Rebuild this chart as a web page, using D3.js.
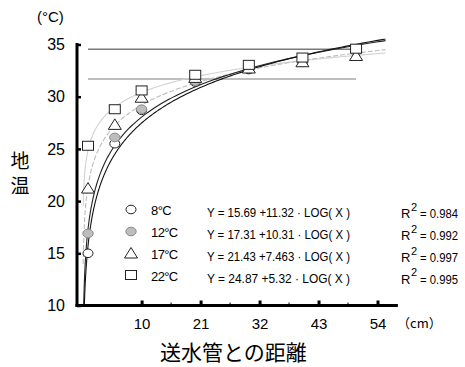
<!DOCTYPE html>
<html><head><meta charset="utf-8">
<script src="https://cdn.jsdelivr.net/npm/d3@7"></script>
<style>
html,body{margin:0;padding:0;background:#fff;}
svg{display:block;}
text{font-family:"Liberation Sans",Arial,sans-serif;fill:#000;}
.cjk{font-family:"Noto Sans CJK JP",sans-serif;}
</style></head>
<body>
<svg id="chart" width="465" height="367"></svg>
<script>
// ---- data ----
const distances = [0, 5, 10, 20, 30, 40, 50];
const seriesLabels = ["8°C", "12°C", "17°C", "22°C"];
const temp8  = [15.0, 25.5, 28.7, 31.4, 32.6, 33.3, 34.4];
const temp12 = [16.9, 26.1, 28.8, 31.5, 32.8, 33.3, 34.3];
const temp17 = [21.2, 27.3, 29.9, 31.8, 32.7, 33.3, 33.9];
const temp22 = [25.3, 28.8, 30.6, 32.1, 33.05, 33.75, 34.6];
const intercepts = [15.69, 17.31, 21.43, 24.87];
const slopes = [11.32, 10.31, 7.463, 5.32];
const slopeText = ["11.32", "10.31", "7.463", "5.32"];
const r2 = ["0.984", "0.992", "0.997", "0.995"];
const refLevels = [34.55, 31.7];
const yTicks = [10, 15, 20, 25, 30, 35];
const xTicks = [10, 21, 32, 43, 54];
const xMinorTicks = [15.5, 26.5, 37.5, 48.5];
const xAxisExtent = [-2.05, 57.8];
const curveRange = [-0.9, 55.5];

const svg = d3.select("#chart");
const x = d3.scaleLinear().domain([0, 54]).range([88, 377.5]);
const y = d3.scaleLinear().domain([10, 35]).range([305.5, 44.5]);
const axisX = x(xAxisExtent[0]);

// clip
svg.append("defs").append("clipPath").attr("id", "plot")
  .append("rect").attr("x", axisX + 1).attr("y", y(35.6))
  .attr("width", x(xAxisExtent[1]) - axisX).attr("height", y(10) - y(35.6) - 1.5);

// reference horizontal lines
const refColors = ["#7a7a7a", "#a8a8a8"];
refLevels.forEach((v, i) => {
  svg.append("line").attr("x1", x(0)).attr("x2", x(50))
    .attr("y1", y(v)).attr("y2", y(v))
    .attr("stroke", refColors[i]).attr("stroke-width", 1.6);
});

// fitted curves Y = a + b*log10(d+1)
const curveStyles = [
  {stroke: "#111", w: 1.1, dash: null},
  {stroke: "#222", w: 1.1, dash: null},
  {stroke: "#bdbdbd", w: 1.1, dash: "5,2"},
  {stroke: "#d2d2d2", w: 1.1, dash: null}
];
const samples = [];
for (let i = 0; i <= 400; i++) {
  const t = i / 400;
  const X = Math.pow(10, Math.log10(curveRange[0] + 1) + t * (Math.log10(curveRange[1] + 1) - Math.log10(curveRange[0] + 1)));
  samples.push(X - 1);
}
const gCurves = svg.append("g").attr("clip-path", "url(#plot)");
[3, 2, 1, 0].forEach(i => {
  const line = d3.line()
    .x(d => x(d))
    .y(d => y(intercepts[i] + slopes[i] * Math.log10(d + 1)));
  gCurves.append("path").attr("d", line(samples))
    .attr("fill", "none").attr("stroke", curveStyles[i].stroke)
    .attr("stroke-width", curveStyles[i].w)
    .attr("stroke-dasharray", curveStyles[i].dash);
});

// markers
function marker(g, type, cx, cy) {
  if (type === 0) g.append("ellipse").attr("cx", cx).attr("cy", cy).attr("rx", 5).attr("ry", 4.3)
      .attr("fill", "#fff").attr("stroke", "#222").attr("stroke-width", 1);
  else if (type === 1) g.append("ellipse").attr("cx", cx).attr("cy", cy).attr("rx", 5.2).attr("ry", 4.3)
      .attr("fill", "#bdbdbd").attr("stroke", "#8a8a8a").attr("stroke-width", 1);
  else if (type === 2) g.append("path")
      .attr("d", `M${cx},${cy - 6}L${cx + 6.5},${cy + 4.5}L${cx - 6.5},${cy + 4.5}Z`)
      .attr("fill", "#fff").attr("stroke", "#222").attr("stroke-width", 1);
  else g.append("rect").attr("x", cx - 5.5).attr("y", cy - 4.5).attr("width", 11).attr("height", 9)
      .attr("fill", "#fff").attr("stroke", "#222").attr("stroke-width", 1);
}
const allSeries = [temp8, temp12, temp17, temp22];
const gPts = svg.append("g");
allSeries.forEach((vals, i) => {
  vals.forEach((v, j) => marker(gPts, i, x(distances[j]), y(v)));
});

// axes
const yAxis = d3.axisLeft(y).tickValues(yTicks).tickSize(-4).tickSizeOuter(0).tickPadding(12);
const gy = svg.append("g").attr("transform", `translate(${axisX},0)`).call(yAxis);
gy.select(".domain").remove();
gy.selectAll(".tick line").attr("stroke", "#000").attr("stroke-width", 2.5);
gy.selectAll(".tick text").attr("font-size", 16).attr("font-family", "Liberation Sans, Arial, sans-serif");
svg.append("line").attr("x1", axisX).attr("x2", axisX).attr("y1", y(35) - 1.5).attr("y2", y(10) + 1.5)
  .attr("stroke", "#000").attr("stroke-width", 3);

const xAxis = d3.axisBottom(x).tickValues(xTicks).tickSize(-5).tickSizeOuter(0).tickPadding(12.5);
const gx = svg.append("g").attr("transform", `translate(0,${y(10)})`).call(xAxis);
gx.select(".domain").remove();
gx.selectAll(".tick line").attr("stroke", "#000").attr("stroke-width", 3);
gx.selectAll(".tick text").attr("font-size", 15).attr("font-family", "Liberation Sans, Arial, sans-serif");
xMinorTicks.forEach(t => {
  svg.append("line").attr("x1", x(t)).attr("x2", x(t)).attr("y1", y(10)).attr("y2", y(10) - 3)
    .attr("stroke", "#000").attr("stroke-width", 1);
});
svg.append("line").attr("x1", axisX - 1.5).attr("x2", x(xAxisExtent[1])).attr("y1", y(10)).attr("y2", y(10))
  .attr("stroke", "#000").attr("stroke-width", 3);

// axis titles/units
svg.append("text").attr("x", 37).attr("y", 22).attr("font-size", 15).text("(°C)");
svg.append("text").attr("class", "cjk").attr("x", 397).attr("y", 328).attr("font-size", 13).text("（cm）");
svg.append("text").attr("class", "cjk").attr("x", 160).attr("y", 360).attr("font-size", 21).text("送水管との距離");
svg.append("text").attr("class", "cjk").attr("font-size", 19).attr("text-anchor", "middle")
  .attr("x", 20).attr("y", 168).text("地");
svg.append("text").attr("class", "cjk").attr("font-size", 19).attr("text-anchor", "middle")
  .attr("x", 20).attr("y", 193).text("温");

// legend
const rowY = [209.5, 231.5, 253.5, 275];
seriesLabels.forEach((lab, i) => {
  marker(svg, i, 131, rowY[i]);
  svg.append("text").attr("x", 151).attr("y", rowY[i] + 5.5).attr("font-size", 13)
    .attr("letter-spacing", -0.6).text(lab);
  svg.append("text").attr("x", 207).attr("y", rowY[i] + 7.5).attr("font-size", 12.5)
    .attr("textLength", 143).attr("lengthAdjust", "spacingAndGlyphs")
    .text(`Y  = ${intercepts[i].toFixed(2)} +${slopeText[i]} · LOG( X )`);
  svg.append("text").attr("x", 401).attr("y", rowY[i] + 8.5).attr("font-size", 13).text("R");
  svg.append("text").attr("x", 411).attr("y", rowY[i] + 1).attr("font-size", 11).text("2");
  svg.append("text").attr("x", 420).attr("y", rowY[i] + 8.5).attr("font-size", 12)
    .attr("textLength", 38).attr("lengthAdjust", "spacingAndGlyphs").text(`= ${r2[i]}`);
});
</script>
</body></html>
